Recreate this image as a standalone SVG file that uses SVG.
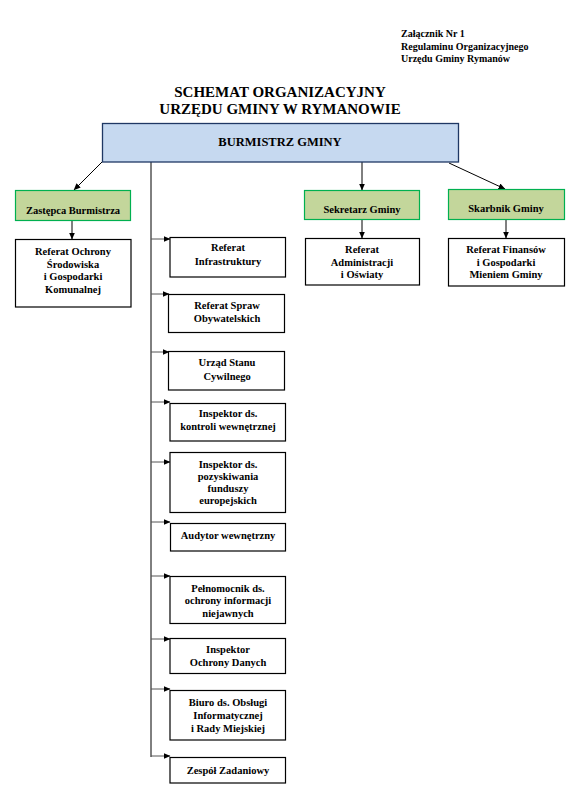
<svg xmlns="http://www.w3.org/2000/svg" width="579" height="794" viewBox="0 0 579 794">
<defs>
<style>
.t{font-family:"Liberation Serif","Times New Roman",serif;font-weight:bold;font-size:10.5px;text-anchor:middle;fill:#000}
.hdr{font-family:"Liberation Serif","Times New Roman",serif;font-weight:bold;font-size:10px;fill:#000}
.title{font-family:"Liberation Serif","Times New Roman",serif;font-weight:bold;font-size:15px;text-anchor:middle;fill:#000}
.box{fill:#fff;stroke:#000;stroke-width:1.2}
.green{fill:#c3d69b;stroke:#00b050;stroke-width:1.2}
.blue{fill:#c6d9f0;stroke:#1f3864;stroke-width:1.3}
.c{stroke:#000;stroke-width:1;fill:none}
.h{stroke:#555;stroke-width:1;fill:none;marker-end:url(#ah)}
.a{marker-end:url(#ah)}
</style>
<marker id="ah" markerWidth="7" markerHeight="6" refX="6.5" refY="3" orient="auto" markerUnits="userSpaceOnUse">
<path d="M0,0 L7,3 L0,6 Z" fill="#000"/>
</marker>
</defs>
<rect width="579" height="794" fill="#fff"/>

<g id="header">
<text class="hdr" x="401" y="37">Załącznik Nr 1</text>
<text class="hdr" x="401" y="50">Regulaminu Organizacyjnego</text>
<text class="hdr" x="401" y="62">Urzędu Gminy Rymanów</text>
<text class="title" x="280" y="97">SCHEMAT ORGANIZACYJNY</text>
<text class="title" x="280" y="113.5">URZĘDU GMINY W RYMANOWIE</text>
</g>

<g id="connectors">
<line class="c a" x1="102" y1="162" x2="74" y2="190"/>
<line class="c a" x1="362" y1="162" x2="362" y2="190"/>
<line class="c a" x1="449" y1="163" x2="505" y2="189"/>
<line class="c a" x1="72" y1="221" x2="72" y2="239"/>
<line class="c a" x1="362" y1="219" x2="362" y2="238"/>
<line class="c a" x1="506" y1="219" x2="506" y2="238"/>
<line class="c" x1="151" y1="162" x2="151" y2="757"/>
<line class="h" x1="151" y1="239" x2="170" y2="239"/>
<line class="h" x1="151" y1="294" x2="169" y2="294"/>
<line class="h" x1="151" y1="352" x2="169" y2="352"/>
<line class="h" x1="151" y1="402" x2="170" y2="402"/>
<line class="h" x1="151" y1="462" x2="170" y2="462"/>
<line class="h" x1="151" y1="522" x2="170" y2="522"/>
<line class="h" x1="151" y1="576" x2="170" y2="576"/>
<line class="h" x1="151" y1="639" x2="170" y2="639"/>
<line class="h" x1="151" y1="689" x2="170" y2="689"/>
<line class="h" x1="151" y1="756" x2="170" y2="756"/>
</g>

<g id="burmistrz">
<rect class="blue" x="102.5" y="123.5" width="356" height="38.5"/>
<text class="t" x="280" y="146" style="font-size:12.5px">BURMISTRZ GMINY</text>
</g>

<g id="zastepca">
<rect class="green" x="15.5" y="190.5" width="115" height="30"/>
<text class="t" x="73" y="213.5">Zastępca Burmistrza</text>
</g>
<g id="sekretarz">
<rect class="green" x="304.5" y="190.5" width="115" height="29"/>
<text class="t" x="362" y="212.5">Sekretarz Gminy</text>
</g>
<g id="skarbnik">
<rect class="green" x="448.5" y="189.5" width="116" height="30"/>
<text class="t" x="506" y="211.5">Skarbnik Gminy</text>
</g>

<g id="ref-ochrony">
<rect class="box" x="15.5" y="239.5" width="115.5" height="67.5"/>
<text class="t" x="73" y="255">Referat Ochrony</text>
<text class="t" x="73" y="267.5">Środowiska</text>
<text class="t" x="73" y="280">i Gospodarki</text>
<text class="t" x="73" y="292.5">Komunalnej</text>
</g>
<g id="ref-admin">
<rect class="box" x="305.5" y="238.5" width="114" height="46.5"/>
<text class="t" x="362" y="253">Referat</text>
<text class="t" x="362" y="265.5">Administracji</text>
<text class="t" x="362" y="278">i Oświaty</text>
</g>
<g id="ref-fin">
<rect class="box" x="448.5" y="238.5" width="116" height="47.5"/>
<text class="t" x="506" y="253">Referat Finansów</text>
<text class="t" x="506" y="265.5">i Gospodarki</text>
<text class="t" x="506" y="278">Mieniem Gminy</text>
</g>

<g id="ref-infra">
<rect class="box" x="170" y="237.5" width="115.5" height="39.5"/>
<text class="t" x="228" y="251">Referat</text>
<text class="t" x="228" y="264.5">Infrastruktury</text>
</g>
<g id="ref-spraw">
<rect class="box" x="168.5" y="294.5" width="116" height="38"/>
<text class="t" x="227" y="308.5">Referat Spraw</text>
<text class="t" x="227" y="321.5">Obywatelskich</text>
</g>
<g id="usc">
<rect class="box" x="168.5" y="351.5" width="116" height="38.5"/>
<text class="t" x="227" y="366">Urząd Stanu</text>
<text class="t" x="227" y="379.5">Cywilnego</text>
</g>
<g id="insp-kontroli">
<rect class="box" x="170" y="403.5" width="115.5" height="37.5"/>
<text class="t" x="228" y="416.5">Inspektor ds.</text>
<text class="t" x="228" y="429.5">kontroli wewnętrznej</text>
</g>
<g id="insp-fundusze">
<rect class="box" x="170" y="452.5" width="115.5" height="60"/>
<text class="t" x="228" y="467.5">Inspektor ds.</text>
<text class="t" x="228" y="479.5">pozyskiwania</text>
<text class="t" x="228" y="491.5">funduszy</text>
<text class="t" x="228" y="503.5">europejskich</text>
</g>
<g id="audytor">
<rect class="box" x="170.5" y="523.5" width="115" height="27.5"/>
<text class="t" x="228" y="538.5">Audytor wewnętrzny</text>
</g>
<g id="pelnomocnik">
<rect class="box" x="170" y="576.5" width="115.5" height="47"/>
<text class="t" x="228" y="591.5">Pełnomocnik ds.</text>
<text class="t" x="228" y="603.5">ochrony informacji</text>
<text class="t" x="228" y="616.5">niejawnych</text>
</g>
<g id="iod">
<rect class="box" x="170" y="638.5" width="115.5" height="35"/>
<text class="t" x="228" y="652.5">Inspektor</text>
<text class="t" x="228" y="665.5">Ochrony Danych</text>
</g>
<g id="biuro">
<rect class="box" x="170" y="690.5" width="115.5" height="49.5"/>
<text class="t" x="228" y="705.5">Biuro ds. Obsługi</text>
<text class="t" x="228" y="718.5">Informatycznej</text>
<text class="t" x="228" y="731.5">i Rady Miejskiej</text>
</g>
<g id="zespol">
<rect class="box" x="170" y="757.5" width="115.5" height="25.5"/>
<text class="t" x="228" y="773.5">Zespół Zadaniowy</text>
</g>
</svg>
